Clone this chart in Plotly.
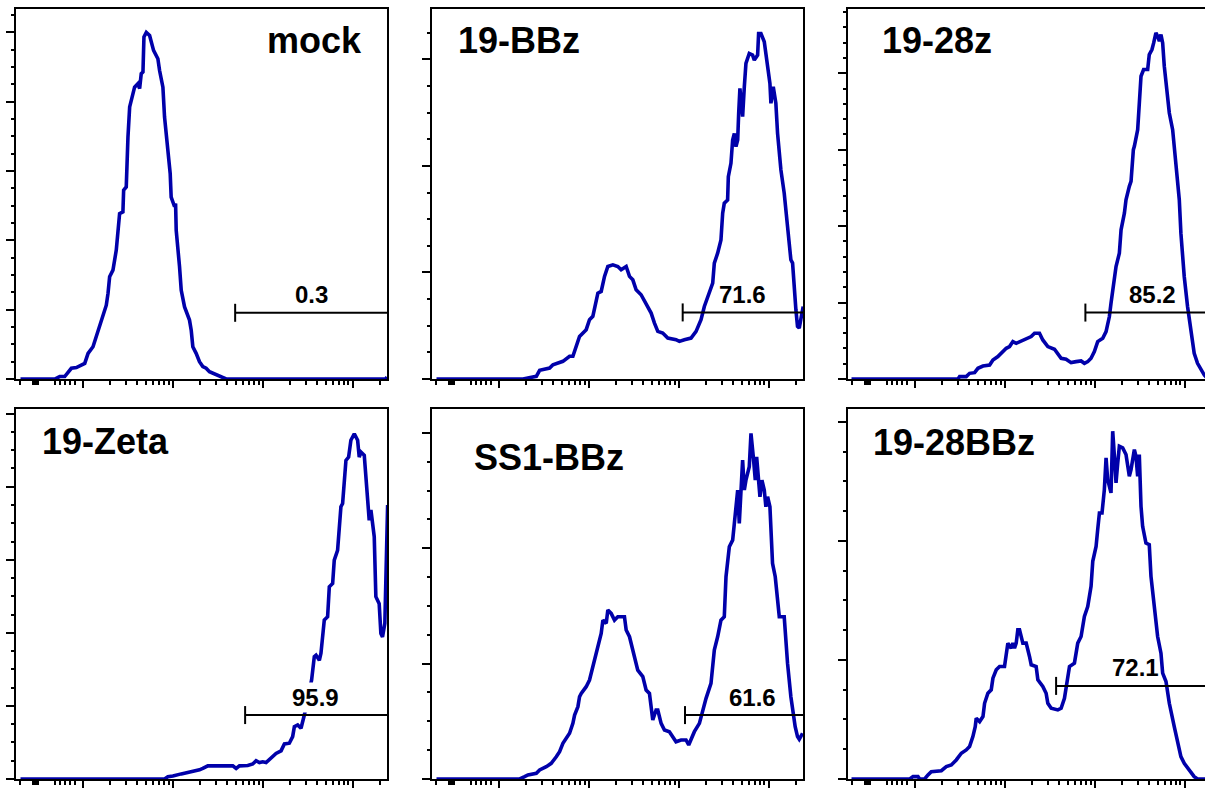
import math
import plotly.graph_objects as go

# ---------------- data (x: log10 fluorescence, decades; y: events) ----------------
sample_names = ["mock", "19-BBz", "19-28z", "19-Zeta", "SS1-BBz", "19-28BBz"]
gate_labels = ["0.3", "71.6", "85.2", "95.9", "61.6", "72.1"]
gate_start = [3.693, 4.044, 3.896, 3.804, 4.070, 3.570]
gate_level = [19.1, 62.5, 86.9, 17.5, 55.4, 78.2]

mock_x = [1.304, 1.685, 1.741, 1.796, 1.870, 1.926, 2.019, 2.056, 2.111, 2.185, 2.222, 2.259, 2.278, 2.296,
          2.333, 2.370, 2.407, 2.444, 2.452, 2.481, 2.500, 2.519, 2.574, 2.611, 2.630, 2.648, 2.667, 2.678,
          2.704, 2.741, 2.785, 2.833, 2.852, 2.889, 2.907, 2.944, 2.970, 2.981, 3.000, 3.019, 3.030, 3.037,
          3.074, 3.093, 3.130, 3.185, 3.204, 3.222, 3.259, 3.296, 3.333, 3.370, 3.407, 3.481, 3.537, 3.593,
          5.370, 5.383]
mock_y = [0, 0, 0.7, 0.7, 3.1, 3.3, 4.5, 7.4, 9.3, 15.1, 18.0, 21.3, 24.7, 29.5,
          31.4, 37.2, 47.7, 48.2, 54.5, 55.4, 69.8, 78.5, 84.2, 85.2, 83.8, 88.1, 88.6, 98.7,
          100, 99.1, 94.8, 92.4, 89.0, 84.2, 75.6, 65.0, 59.3, 52.5, 51.1, 49.7, 50.6, 42.9,
          32.4, 25.6, 20.8, 17.0, 14.1, 9.3, 7.4, 5.0, 3.6, 3.1, 2.1, 1.2, 0.4, 0,
          0, 0.6]

bbz_x = [1.304, 2.267, 2.415, 2.452, 2.563, 2.600, 2.711, 2.785, 2.822, 2.859, 2.896, 2.970, 3.007, 3.044,
         3.081, 3.100, 3.137, 3.174, 3.211, 3.267, 3.322, 3.359, 3.415, 3.452, 3.489, 3.526, 3.581, 3.637,
         3.693, 3.730, 3.767, 3.822, 3.878, 3.970, 4.007, 4.063, 4.137, 4.193, 4.248, 4.285, 4.341, 4.378,
         4.396, 4.433, 4.470, 4.489, 4.507, 4.544, 4.552, 4.581, 4.600, 4.619, 4.637, 4.656, 4.667, 4.681,
         4.693, 4.711, 4.730, 4.748, 4.785, 4.822, 4.841, 4.878, 4.889, 4.915, 4.952, 4.989, 5.015, 5.026,
         5.052, 5.081, 5.100, 5.137, 5.174, 5.211, 5.248, 5.267, 5.285, 5.304, 5.322, 5.341, 5.385]
bbz_y = [0, 0, 2.5, 8.1, 10.3, 13.4, 16.6, 21.3, 21.3, 30.6, 40.0, 46.3, 55.6, 58.8,
         71.3, 80.6, 82.2, 96.3, 105.6, 107.2, 105.6, 102.5, 105.6, 96.3, 93.1, 83.8, 79.1, 71.3,
         61.9, 52.5, 44.7, 43.1, 38.4, 36.9, 35.3, 36.9, 38.4, 44.7, 55.6, 68.1, 80.6, 90.0,
         108.8, 118.1, 130.6, 155.6, 165.0, 168.1, 190.0, 202.5, 224.4, 230.6, 218.1, 224.4, 249.4, 272.8,
         261.9, 246.3, 274.4, 296.3, 305.6, 304.1, 299.4, 304.1, 324.4, 324.4, 316.6, 296.3, 277.5, 258.8,
         274.4, 258.8, 230.6, 196.3, 174.4, 143.1, 111.9, 108.8, 80.6, 65.0, 49.4, 47.8, 68.1]

c28z_x = [1.293, 2.478, 2.496, 2.570, 2.607, 2.663, 2.700, 2.756, 2.830, 2.867, 2.922, 2.978, 3.015, 3.052,
          3.089, 3.126, 3.200, 3.256, 3.293, 3.330, 3.385, 3.422, 3.478, 3.552, 3.589, 3.626, 3.681, 3.737,
          3.793, 3.848, 3.885, 3.922, 3.959, 3.996, 4.033, 4.089, 4.126, 4.163, 4.181, 4.207, 4.237, 4.274,
          4.293, 4.330, 4.348, 4.385, 4.404, 4.430, 4.441, 4.478, 4.496, 4.515, 4.544, 4.589, 4.607, 4.637,
          4.656, 4.681, 4.700, 4.719, 4.737, 4.756, 4.774, 4.793, 4.830, 4.867, 4.904, 4.941, 4.959, 4.996,
          5.033, 5.070, 5.107, 5.144, 5.181, 5.219, 5.260, 5.383]
c28z_y = [0, 0, 3.1, 3.1, 7.4, 8.3, 14.0, 17.0, 18.3, 24.9, 29.3, 35.8, 40.2, 42.4,
          48.9, 46.7, 50.2, 53.3, 55.5, 59.8, 59.8, 51.1, 42.4, 38.9, 33.6, 27.1, 25.8, 21.4,
          22.7, 23.6, 20.5, 22.7, 27.1, 35.8, 48.9, 53.3, 62.0, 81.7, 99.1, 121.0, 147.2, 164.6,
          195.2, 217.0, 234.5, 252.0, 258.5, 300.0, 304.4, 326.2, 356.8, 396.1, 404.8, 404.8, 424.5, 431.0,
          439.7, 452.8, 448.5, 441.9, 450.7, 439.7, 409.2, 387.3, 348.0, 326.2, 282.5, 234.5, 190.8, 134.1,
          94.8, 59.8, 33.6, 20.5, 11.8, 5.2, 0, 0]

zeta_x = [1.304, 2.907, 2.944, 3.000, 3.093, 3.222, 3.296, 3.333, 3.389, 3.667, 3.704, 3.741, 3.833, 3.889,
          3.926, 3.963, 4.000, 4.037, 4.093, 4.148, 4.204, 4.241, 4.296, 4.333, 4.352, 4.389, 4.426, 4.444,
          4.463, 4.544, 4.574, 4.593, 4.630, 4.648, 4.667, 4.685, 4.722, 4.741, 4.778, 4.796, 4.833, 4.852,
          4.870, 4.889, 4.926, 4.956, 4.981, 5.019, 5.056, 5.074, 5.093, 5.130, 5.167, 5.185, 5.204, 5.241,
          5.259, 5.296, 5.315, 5.333, 5.359, 5.378, 5.390]
zeta_y = [0, 0, 0.6, 0.8, 1.4, 2.0, 2.5, 2.9, 3.6, 3.6, 2.9, 3.6, 3.7, 4.1,
          5.0, 4.5, 4.7, 4.5, 5.7, 7.0, 7.7, 9.6, 9.8, 11.6, 14.3, 14.8, 13.9, 15.7,
          17.5, 27.1, 33.5, 33.9, 32.5, 34.4, 39.8, 43.5, 44.4, 52.6, 53.5, 59.9, 62.6, 68.1,
          74.5, 75.4, 87.2, 88.1, 92.7, 94.5, 92.7, 88.1, 89.5, 88.6, 78.1, 70.8, 73.6, 66.3,
          49.9, 48.0, 39.8, 38.9, 42.6, 68.6, 75.0]

ss1_x = [1.304, 2.230, 2.285, 2.322, 2.415, 2.452, 2.526, 2.581, 2.637, 2.674, 2.711, 2.748, 2.785, 2.822,
         2.841, 2.878, 2.896, 2.915, 2.970, 3.007, 3.044, 3.081, 3.100, 3.137, 3.156, 3.193, 3.211, 3.248,
         3.285, 3.322, 3.396, 3.415, 3.452, 3.470, 3.507, 3.544, 3.600, 3.637, 3.674, 3.693, 3.711, 3.748,
         3.767, 3.804, 3.841, 3.896, 3.933, 3.970, 4.026, 4.081, 4.111, 4.137, 4.174, 4.230, 4.267, 4.304,
         4.359, 4.396, 4.433, 4.470, 4.507, 4.526, 4.563, 4.600, 4.619, 4.656, 4.674, 4.693, 4.711, 4.730,
         4.748, 4.785, 4.804, 4.830, 4.852, 4.867, 4.889, 4.904, 4.926, 4.952, 4.970, 4.989, 5.015, 5.044,
         5.074, 5.100, 5.119, 5.174, 5.211, 5.248, 5.274, 5.296, 5.322, 5.341, 5.378]
ss1_y = [0, 0, 2.0, 3.5, 4.9, 7.8, 10.7, 13.6, 19.3, 23.7, 30.9, 35.2, 39.6, 48.2,
         55.4, 62.7, 71.3, 74.2, 80.0, 85.8, 97.3, 111.8, 117.5, 126.2, 137.7, 134.9, 146.4, 143.5,
         137.7, 140.6, 140.6, 129.1, 123.3, 117.5, 106.0, 94.4, 88.7, 77.1, 74.2, 62.7, 51.1, 59.8,
         59.8, 48.2, 42.4, 41.0, 36.7, 32.3, 33.8, 33.8, 29.5, 33.8, 41.0, 48.2, 59.8, 69.9,
         82.9, 111.8, 123.3, 137.7, 140.6, 175.3, 201.3, 207.0, 221.5, 250.4, 221.5, 250.4, 276.4, 250.4,
         259.0, 270.6, 299.5, 279.2, 259.0, 279.2, 261.9, 244.6, 259.0, 250.4, 235.9, 244.6, 235.9, 186.8,
         175.3, 155.1, 140.6, 140.6, 100.2, 71.3, 54.0, 45.3, 36.7, 34.4, 39.6]

c28bbz_x = [1.293, 1.941, 1.978, 2.033, 2.052, 2.107, 2.144, 2.181, 2.293, 2.348, 2.404, 2.459, 2.515, 2.570,
            2.607, 2.644, 2.670, 2.681, 2.719, 2.756, 2.774, 2.811, 2.848, 2.867, 2.904, 2.941, 2.996, 3.015,
            3.033, 3.070, 3.089, 3.107, 3.126, 3.144, 3.163, 3.200, 3.237, 3.274, 3.293, 3.348, 3.367, 3.422,
            3.459, 3.478, 3.515, 3.589, 3.626, 3.663, 3.681, 3.719, 3.774, 3.811, 3.848, 3.885, 3.922, 3.959,
            3.978, 4.015, 4.033, 4.052, 4.081, 4.107, 4.126, 4.144, 4.181, 4.200, 4.219, 4.237, 4.256, 4.274,
            4.311, 4.348, 4.385, 4.404, 4.441, 4.459, 4.478, 4.496, 4.515, 4.533, 4.570, 4.607, 4.626, 4.663,
            4.700, 4.737, 4.756, 4.793, 4.830, 4.885, 4.922, 4.959, 4.996, 5.052, 5.107, 5.144, 5.383]
c28bbz_y = [0, 0, 2.0, 2.0, 0, 0, 3.4, 6.2, 7.0, 10.4, 11.8, 16.0, 21.6, 24.4,
            27.2, 35.6, 44.0, 51.0, 48.2, 52.4, 63.6, 72.0, 74.9, 84.7, 91.7, 94.5, 94.5, 105.7,
            114.1, 109.9, 114.1, 109.9, 114.1, 125.3, 125.3, 114.1, 114.1, 102.9, 95.9, 94.5, 83.3, 77.7,
            72.0, 63.6, 59.4, 58.0, 59.4, 67.8, 76.3, 94.5, 97.3, 114.1, 119.7, 136.5, 144.9, 161.8,
            182.8, 195.4, 209.4, 223.4, 223.4, 243.1, 269.7, 251.5, 240.3, 292.1, 271.1, 248.7, 265.5, 279.5,
            278.1, 272.5, 254.3, 259.9, 276.7, 271.1, 254.3, 272.5, 229.0, 212.2, 198.2, 196.8, 170.2, 147.7,
            119.7, 105.7, 88.9, 81.9, 63.6, 44.0, 32.8, 18.8, 13.2, 7.6, 2.0, 0, 0]

# y-axis scales (top of axis, major and minor tick spacing)
y_top = [106.9, 347.8, 484.7, 101.4, 321.1, 311.2]
y_major = [20, 100, 100, 20, 100, 100]
y_minor = [5, 25, 20, 5, 25, 25]

# x-axis (display decades)
X_MIN, X_MAX = 1.254, 5.383
x_major_ticks = [2, 3, 4, 5]
x_low_ticks = [1.304, 1.441, 1.463, 1.486, 1.502, 1.686, 1.741, 1.797, 1.852, 1.908]

# ---------------- layout ----------------
W, H = 1205, 789
FONT = "Liberation Sans, Arial, Helvetica, sans-serif"
BLUE = "rgb(0,0,170)"
col_left = [16, 432, 848]
panel_w = 371
row_top = [8.5, 408.5]
row_bottom = [379, 779]

# name label positions (px): x, y-centre, anchor
name_pos = [(364, 41, "right"), (456, 41, "left"), (880, 41, "left"),
            (40, 441, "left"), (472, 457, "left"), (871, 442, "left")]
label_xshift = [0, 0, 0, -1, 8, -2]

minor_x = list(x_low_ticks)
for d in [2, 3, 4]:
    for m in range(2, 10):
        minor_x.append(d + math.log10(m))
minor_x.append(5 + math.log10(2))

xs = [mock_x, bbz_x, c28z_x, zeta_x, ss1_x, c28bbz_x]
ys = [mock_y, bbz_y, c28z_y, zeta_y, ss1_y, c28bbz_y]

fig = go.Figure()
layout = dict(width=W, height=H, margin=dict(l=0, r=0, t=0, b=0, pad=0),
              paper_bgcolor="white", plot_bgcolor="white", showlegend=False,
              font=dict(family=FONT, color="black"))
shapes = []
annotations = []

for i in range(6):
    r, c = divmod(i, 3)
    k = i + 1
    sfx = "" if k == 1 else str(k)
    left = col_left[c]
    right = min(left + panel_w, W)
    x_hi = X_MIN + (right - left) / panel_w * (X_MAX - X_MIN)
    clipped = right < left + panel_w
    layout["xaxis" + sfx] = dict(
        domain=[left / W, right / W], range=[X_MIN, x_hi], anchor="y" + sfx,
        showline=True, linecolor="black", linewidth=2, mirror=True, layer="below traces",
        ticks="outside", tickmode="array", tickvals=x_major_ticks, ticklen=7, tickwidth=2,
        tickcolor="black", showticklabels=False, showgrid=False, zeroline=False, fixedrange=True,
        minor=dict(tickmode="array", tickvals=minor_x, ticks="outside", ticklen=4, tickwidth=2,
                   tickcolor="black", showgrid=False))
    layout["yaxis" + sfx] = dict(
        domain=[1 - row_bottom[r] / H, 1 - row_top[r] / H], range=[0, y_top[i]], anchor="x" + sfx,
        showline=True, linecolor="black", linewidth=2, mirror=(not clipped), layer="below traces",
        ticks="outside", tick0=0, dtick=y_major[i], ticklen=8, tickwidth=2, tickcolor="black",
        showticklabels=False, showgrid=False, zeroline=False, fixedrange=True,
        minor=dict(ticks="outside", tick0=0, dtick=y_minor[i], ticklen=3, tickwidth=2,
                   tickcolor="black", showgrid=False))

    fig.add_trace(go.Scatter(x=xs[i], y=ys[i], mode="lines", xaxis="x" + sfx, yaxis="y" + sfx,
                             line=dict(color=BLUE, width=3.6), hoverinfo="skip"))

    # gate bar
    shapes.append(dict(type="line", xref="x" + sfx, yref="y" + sfx, x0=gate_start[i], x1=X_MAX,
                       y0=gate_level[i], y1=gate_level[i], line=dict(color="black", width=2)))
    shapes.append(dict(type="line", xref="x" + sfx, yref="y" + sfx, x0=gate_start[i], x1=gate_start[i],
                       ysizemode="pixel", yanchor=gate_level[i], y0=-9, y1=9,
                       line=dict(color="black", width=2)))
    annotations.append(dict(xref="x" + sfx, yref="y" + sfx, x=(gate_start[i] + X_MAX) / 2,
                            y=gate_level[i], yshift=18, xshift=label_xshift[i],
                            text="<b>%s</b>" % gate_labels[i], showarrow=False,
                            xanchor="center", yanchor="middle",
                            bgcolor="white" if i == 3 else "rgba(0,0,0,0)",
                            font=dict(family=FONT, size=24, color="black")))
    px, py, anc = name_pos[i]
    annotations.append(dict(xref="paper", yref="paper", x=px / W, y=1 - py / H,
                            text="<b>%s</b>" % sample_names[i], showarrow=False,
                            xanchor=anc, yanchor="middle",
                            font=dict(family=FONT, size=36, color="black")))

layout["shapes"] = shapes
layout["annotations"] = annotations
fig.update_layout(**layout)

fig.write_html("out.html", include_plotlyjs=True, config={"displayModeBar": False, "staticPlot": True},
               post_script="document.body.style.margin='0';")
